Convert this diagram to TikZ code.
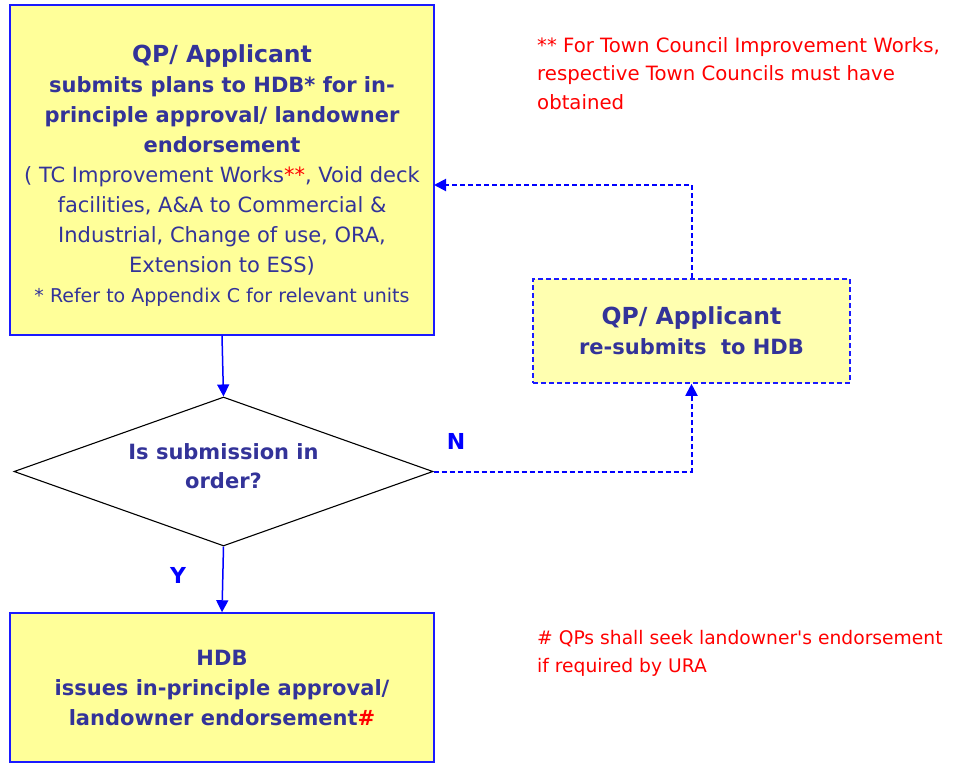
\documentclass[tikz,border=0pt]{standalone}
\usepackage{fontspec}
\setmainfont{DejaVu Sans}[Ligatures=TeXOff]
\usetikzlibrary{arrows.meta,shapes.geometric,calc}
\definecolor{txt}{HTML}{333399}
\definecolor{bdr}{HTML}{1A1AFF}
\definecolor{boxfill}{HTML}{FFFF99}
\definecolor{refill}{HTML}{FFFFB0}
\definecolor{note}{HTML}{FF0000}
\definecolor{lbl}{HTML}{0000FF}
\newcommand\szf[1]{\fontsize{#1}{30}\selectfont}
\begin{document}
\begin{tikzpicture}[x=1pt,y=-1pt,
  procbox/.style={draw=bdr,line width=1.5pt,fill=boxfill,inner sep=0pt,text=txt,align=center,font=\szf{21}},
  rebox/.style={draw=bdr,line width=1.6pt,dash pattern=on 5pt off 3pt,fill=refill,inner sep=0pt,text=txt,align=center,font=\szf{21}\bfseries},
  decbox/.style={shape=diamond,draw=black,line width=1.1pt,fill=white,inner sep=0pt,text=txt,align=center,font=\fontsize{21}{29}\selectfont\bfseries},
  notetext/.style={text=note,align=left,inner sep=0pt,anchor=north west},
  yn/.style={text=lbl,font=\fontsize{22}{24}\selectfont\bfseries,inner sep=0pt},
  flow/.style={draw=lbl,line width=1.5pt,-{Triangle[length=12pt,width=12pt,fill=lbl]}},
  backflow/.style={draw=lbl,line width=2pt,dash pattern=on 5pt off 3pt,-{Triangle[length=12pt,width=12pt,fill=lbl,sep=0pt]}}
]
\useasboundingbox (0,0) rectangle (954,763);

\node[procbox,minimum width=424pt,minimum height=330pt] (top) at (222,170) {%
{\szf{23.5}\bfseries\rule{0pt}{28pt}QP/ Applicant}\\
{\bfseries submits plans to HDB* for in-}\\
{\bfseries principle approval/ landowner}\\
{\bfseries endorsement}\\
( TC Improvement Works{\color{note}**}, Void deck\\
facilities, A\&A to Commercial \&\\
Industrial, Change of use, ORA,\\
Extension to ESS)\\
{\szf{19}* Refer to Appendix C for relevant units}};

\node[decbox,shape aspect=2.81,minimum width=419pt,minimum height=149pt] (dec) at (223.5,471.5) {Is submission in\\order?\rule[-10pt]{0pt}{10pt}};

\node[procbox,minimum width=424pt,minimum height=149pt] (bot) at (222,687.5) {%
{\bfseries HDB}\\
{\bfseries issues in-principle approval/}\\
{\bfseries landowner endorsement{\color{note}\#}}};

\node[rebox,minimum width=317pt,minimum height=104pt] (re) at (691.5,331) {%
{\szf{23.5}QP/ Applicant}\\
re-submits\ \ to HDB};

\node[notetext,font=\fontsize{19.7}{28.5}\selectfont] (note1) at (537,37) {** For Town Council Improvement Works,\\respective Town Councils must have\\obtained};
\node[notetext,font=\fontsize{18.7}{28.5}\selectfont] (note2) at (537,630) {\# QPs shall seek landowner's endorsement\\if required by URA};

\node[yn] (nlab) at (456,441) {N};
\node[yn] (ylab) at (178,575) {Y};

\coordinate (topin) at (434,185);

\draw[flow] (top.south) -- (dec.north);
\draw[flow] (dec.south) -- (bot.north);
\draw[backflow] (dec.east) -| (re.south);
\draw[backflow] (re.north) |- (topin);
\end{tikzpicture}
\end{document}
